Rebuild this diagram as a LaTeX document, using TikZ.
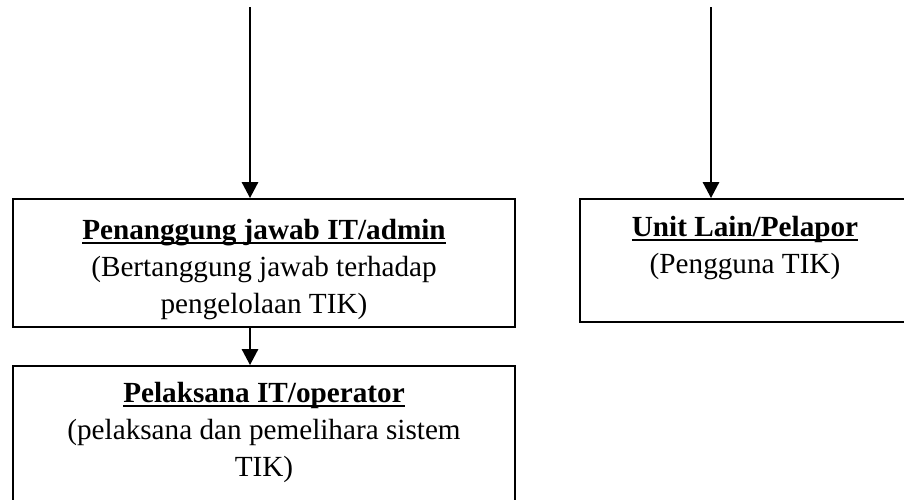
\documentclass[tikz,border=0pt]{standalone}
\usepackage{fontspec}
\setmainfont{Liberation Serif}
\usetikzlibrary{arrows.meta,positioning}

\newcommand{\titleline}[1]{\setbox0=\hbox{\textbf{#1}}\rlap{\rule[-2.4pt]{\wd0}{0.9pt}}\box0}

\tikzset{
  unitbox/.style={draw, line width=0.9pt, inner sep=0pt},
  boxtext/.style={align=center, font=\fontsize{14.6}{18.5}\selectfont, inner sep=0pt, anchor=base},
  flow/.style={-{Triangle[length=8pt,width=8pt]}, line width=1.4pt}
}

\begin{document}
\begin{tikzpicture}[x=0.5pt,y=-0.5pt]
  \useasboundingbox (0,0) rectangle (904,499);
  \clip (0,0) rectangle (904,499);

  % kotak struktur
  \node[unitbox, minimum width=251pt, minimum height=64pt] (pj) at (264,263) {};
  \node[unitbox, minimum width=251pt, minimum height=77pt] (pl) at (264,443) {};
  \node[unitbox, minimum width=165pt, minimum height=61.5pt] (ul) at (745,260.5) {};

  % teks (base = baris terakhir)
  \node[boxtext] (pjtext) at (264,313)
    {\titleline{Penanggung jawab IT/admin}\\(Bertanggung jawab terhadap\\pengelolaan TIK)};
  \node[boxtext] (pltext) at (264,476)
    {\titleline{Pelaksana IT/operator}\\(pelaksana dan pemelihara sistem\\TIK)};
  \node[boxtext] (ultext) at (745,273)
    {\titleline{Unit Lain/Pelapor}\\(Pengguna TIK)};

  % panah
  \coordinate (pjin) at (250,7);
  \coordinate (ulin) at (711,7);
  \draw[flow] (pjin) -- (pjin |- pj.north);
  \draw[flow] (pjin |- pj.south) -- (pjin |- pl.north);
  \draw[flow] (ulin) -- (ulin |- ul.north);
\end{tikzpicture}
\end{document}
